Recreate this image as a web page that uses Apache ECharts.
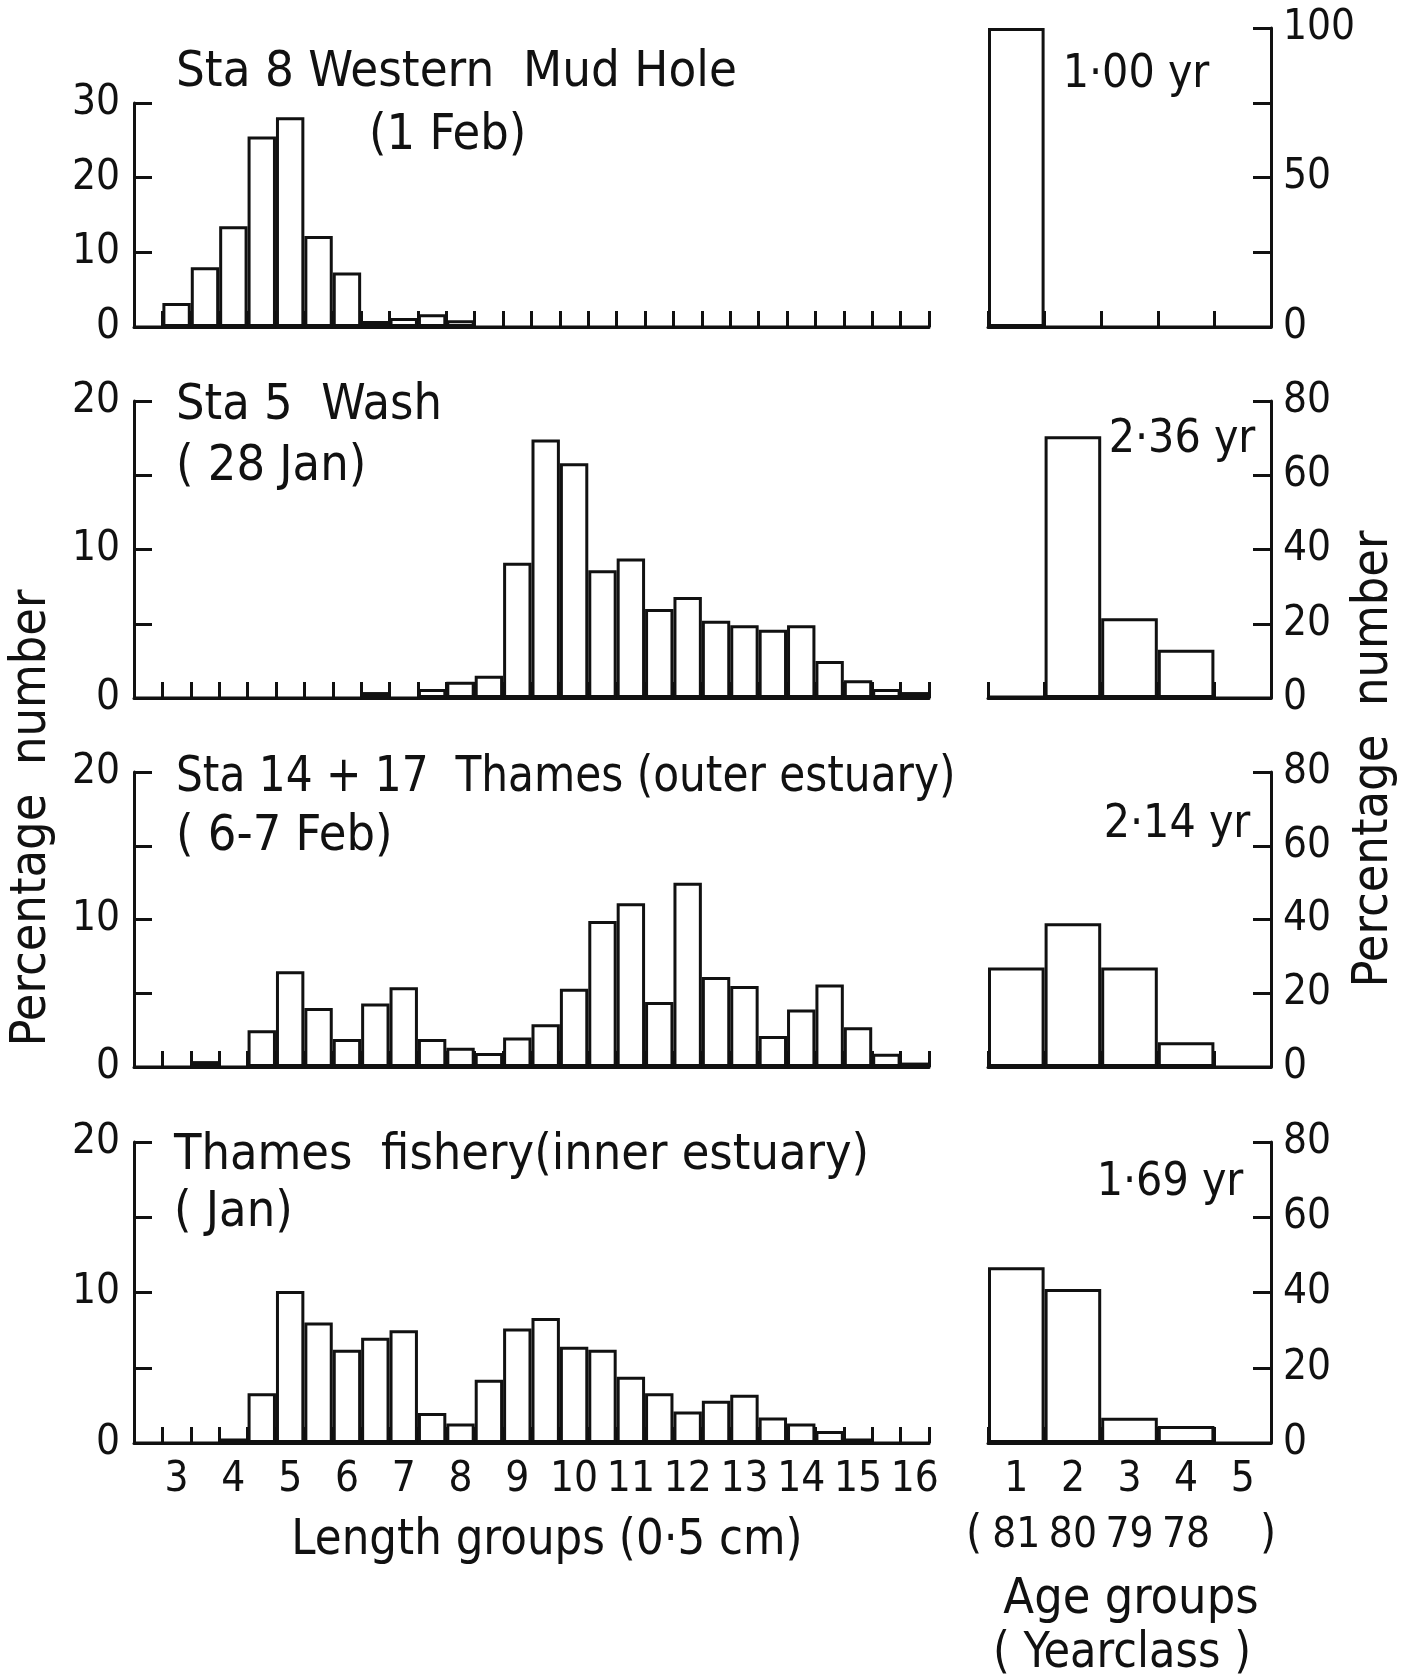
<!DOCTYPE html>
<html>
<head>
<meta charset="utf-8">
<script src="https://cdn.jsdelivr.net/npm/echarts@6/dist/echarts.min.js"></script>
<style>
html,body{margin:0;padding:0;background:#fff;}
#chart{width:1419px;height:1676px;}
</style>
</head>
<body>
<div id="chart"></div>
<script>
// ---------- data ----------
const lengthGroups = ['2.5','3','3.5','4','4.5','5','5.5','6','6.5','7','7.5','8','8.5','9','9.5','10','10.5','11','11.5','12','12.5','13','13.5','14','14.5','15','15.5','16'];
const ageGroups = ['1','2','3','4','5'];
const yearClasses = ['81','80','79','78',''];

const sta8Length   = [0,3.2,8.0,13.5,25.5,28.1,12.2,7.3,0.8,1.2,1.7,0.9,0,0,0,0,0,0,0,0,0,0,0,0,0,0,0,0];
const sta5Length   = [0,0,0,0,0,0,0,0,0.4,0,0.6,1.1,1.5,9.1,17.4,15.8,8.6,9.4,6.0,6.8,5.2,4.9,4.6,4.9,2.5,1.2,0.6,0.4];
const sta14Length  = [0,0,0.4,0,2.5,6.5,4.0,1.9,4.3,5.4,1.9,1.3,0.95,2.0,2.9,5.3,9.9,11.1,4.4,12.5,6.1,5.5,2.1,3.9,5.6,2.7,0.9,0.3];
const thamesLength = [0,0,0,0.3,3.3,10.1,8.0,6.2,7.0,7.5,2.0,1.3,4.2,7.6,8.3,6.4,6.2,4.4,3.3,2.1,2.8,3.2,1.7,1.3,0.8,0.3,0,0];

const sta8Age   = [100,0,0,0,0];
const sta5Age   = [0.5,70.5,21.5,13,0];
const sta14Age  = [27,39,27,6.7,0];
const thamesAge = [46.7,40.9,6.7,4.5,0];

const panelTitles = ['Sta 8 Western  Mud Hole','Sta 5  Wash','Sta 14 + 17  Thames (outer estuary)','Thames  fishery(inner estuary)'];
const panelDates  = ['(1 Feb)','( 28 Jan)','( 6-7 Feb)','( Jan)'];
const meanAges    = ['1·00 yr','2·36 yr','2·14 yr','1·69 yr'];
const lengthMax = [30,20,20,20], lengthStep = [10,5,5,5];
const ageMax = [100,80,80,80], ageStep = [25,20,20,20];

// ---------- layout ----------
const INK = '#111';
const NUM_FONT = '"DejaVu Sans Condensed","DejaVu Sans",sans-serif';
const TXT_FONT = '"DejaVu Sans Condensed","DejaVu Sans",sans-serif';
const L = {left:134, width:795};
const R = {left:988, width:283};
const leftTop  = [103, 401, 772, 1142], leftH  = [224, 297, 295, 301];
const rightTop = [28, 401, 772, 1142],  rightH = [299, 297, 295, 301];
const lengthSeries = [sta8Length, sta5Length, sta14Length, thamesLength];
const ageSeries = [sta8Age, sta5Age, sta14Age, thamesAge];

const grid = [], xAxis = [], yAxis = [], series = [];
const lineStyle = {color: INK, width: 3};
const labelBase = {color: INK, fontFamily: NUM_FONT, fontSize: 42};

for (let i = 0; i < 4; i++) {
  const last = i === 3;
  // left grid
  grid.push({left: L.left, width: L.width, top: leftTop[i], height: leftH[i]});
  const gl = grid.length - 1;
  xAxis.push({
    type: 'category', gridIndex: gl, data: lengthGroups, boundaryGap: true,
    axisLine: {show: true, lineStyle},
    axisTick: {show: true, inside: true, length: 16, interval: 0, lineStyle},
    axisLabel: {show: last, interval: 0, margin: 16, ...labelBase,
      formatter: v => (Number(v) % 1 === 0 ? v : '')},
    splitLine: {show: false}
  });
  const lm = lengthMax[i], ls = lengthStep[i];
  yAxis.push({
    type: 'value', gridIndex: gl, min: 0, max: lm, interval: ls,
    axisLine: {show: true, lineStyle},
    axisTick: {show: true, inside: true, length: 18, lineStyle},
    axisLabel: {margin: 14, ...labelBase, formatter: v => (v % 10 === 0 ? String(v) : '')},
    splitLine: {show: false}
  });
  series.push({
    type: 'bar', xAxisIndex: gl, yAxisIndex: gl, data: lengthSeries[i],
    barCategoryGap: '0%', silent: true,
    itemStyle: {color: '#fff', borderColor: INK, borderWidth: 3}
  });

  // right grid
  grid.push({left: R.left, width: R.width, top: rightTop[i], height: rightH[i]});
  const gr = grid.length - 1;
  xAxis.push({
    type: 'category', gridIndex: gr, data: ageGroups, boundaryGap: true,
    axisLine: {show: true, lineStyle},
    axisTick: {show: true, inside: true, length: 16, interval: 0, lineStyle},
    axisLabel: {show: last, interval: 0, margin: 16, ...labelBase},
    splitLine: {show: false}
  });
  const am = ageMax[i], as = ageStep[i];
  yAxis.push({
    type: 'value', gridIndex: gr, position: 'right', min: 0, max: am, interval: as,
    axisLine: {show: true, lineStyle},
    axisTick: {show: true, inside: true, length: 18, lineStyle},
    axisLabel: {margin: 12, ...labelBase,
      formatter: v => (i === 0 ? (v % 50 === 0 ? String(v) : '') : String(v))},
    splitLine: {show: false}
  });
  series.push({
    type: 'bar', xAxisIndex: gr, yAxisIndex: gr, data: ageSeries[i],
    barCategoryGap: '0%', silent: true,
    itemStyle: {color: '#fff', borderColor: INK, borderWidth: 3}
  });
}
// yearclass row under the last age panel
xAxis.push({
  type: 'category', gridIndex: 7, data: yearClasses, boundaryGap: true, position: 'bottom', offset: 56,
  axisLine: {show: false}, axisTick: {show: false},
  axisLabel: {interval: 0, margin: 16, ...labelBase}
});

function txt(text, x, y, opts) {
  opts = opts || {};
  return {
    type: 'text', x: x, y: y, rotation: opts.rotation || 0, silent: true,
    scaleX: opts.scaleX || 1,
    style: {
      text: text, fill: INK,
      font: (opts.size || 50) + 'px ' + (opts.family || TXT_FONT),
      textAlign: opts.align || 'left', align: opts.align || 'left',
      textVerticalAlign: 'middle', verticalAlign: 'middle'
    }
  };
}

const titleY = [73, 406, 778, 1156];
const dateY  = [136, 467, 837, 1213];
const dateX  = [369, 176, 176, 174];
const titleScale = [1.01, 1, 0.94, 1];
const meanX  = [1136, 1182, 1177, 1170];
const meanY  = [75, 440, 825, 1183];
const graphic = [];
for (let i = 0; i < 4; i++) {
  graphic.push(txt(panelTitles[i], i === 3 ? 174 : 176, titleY[i], {scaleX: titleScale[i]}));
  graphic.push(txt(panelDates[i], dateX[i], dateY[i]));
  graphic.push(txt(meanAges[i], meanX[i], meanY[i], {align: 'center', size: 46}));
}
graphic.push(txt('Length groups (0·5 cm)', 547, 1541, {align: 'center', scaleX: 0.97}));
graphic.push(txt('Age groups', 1131, 1600, {align: 'center'}));
graphic.push(txt('( Yearclass )', 1122, 1654, {align: 'center', scaleX: 0.96}));
graphic.push(txt('(', 974, 1535, {align: 'center', size: 46}));
graphic.push(txt(')', 1268, 1535, {align: 'center', size: 46}));
graphic.push(txt('Percentage  number', 32, 818, {align: 'center', rotation: Math.PI / 2}));
graphic.push(txt('Percentage  number', 1374, 759, {align: 'center', rotation: Math.PI / 2}));

const chart = echarts.init(document.getElementById('chart'), null, {renderer: 'canvas'});
chart.setOption({
  animation: false,
  backgroundColor: '#fff',
  grid, xAxis, yAxis, series, graphic
});
</script>
</body>
</html>
